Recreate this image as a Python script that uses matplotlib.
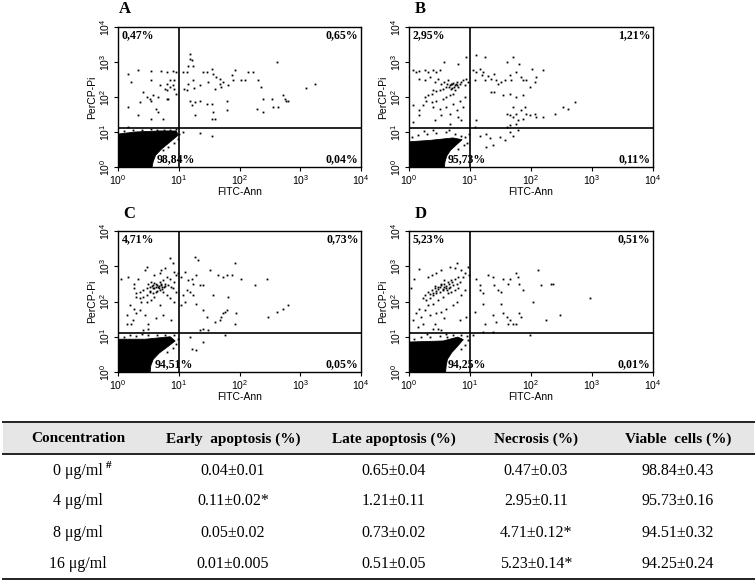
import numpy as np
import matplotlib
matplotlib.use("Agg")
import matplotlib.pyplot as plt

plt.rcParams['font.family'] = 'Liberation Sans'
plt.rcParams['mathtext.fontset'] = 'custom'
plt.rcParams['mathtext.rm'] = 'Liberation Sans'
plt.rcParams['mathtext.default'] = 'regular'

W, H = 756, 584

# quadrant gates (FITC-Ann, PerCP-Pi intensity)
gate_fitc = 10.0
gate_pi = 12.9

# quadrant percentages: upper-left, upper-right, lower-left, lower-right
pct_A = ['0,47%', '0,65%', '98,84%', '0,04%']
pct_B = ['2,95%', '1,21%', '95,73%', '0,11%']
pct_C = ['4,71%', '0,73%', '94,51%', '0,05%']
pct_D = ['5,23%', '0,51%', '94,25%', '0,01%']

# events, as (log10 FITC-Ann, log10 PerCP-Pi)
events_A = np.array([
    (0.16, 2.67), (0.33, 2.76), (0.22, 2.43), (0.55, 2.73), (0.71, 2.73), (0.80, 2.71), (0.91, 2.73),
    (0.96, 2.71), (0.55, 2.50), (0.69, 2.33), (0.80, 2.38), (0.85, 2.48), (0.93, 2.48), (0.77, 2.24),
    (0.80, 2.19), (0.85, 2.29), (0.91, 2.33), (0.41, 2.14), (0.47, 2.00), (0.52, 1.95), (0.58, 2.05),
    (0.55, 1.90), (0.66, 2.00), (0.80, 1.95), (0.82, 1.93), (0.93, 2.24), (0.96, 2.10), (0.16, 1.71),
    (0.36, 1.86), (0.63, 1.67), (0.66, 1.57), (0.33, 1.48), (0.55, 1.38), (0.74, 1.38), (0.16, 1.13),
    (1.07, 2.71), (1.13, 2.71), (1.15, 2.90), (1.18, 3.10), (1.19, 3.24), (1.21, 3.05), (1.24, 2.90),
    (1.24, 2.48), (1.15, 2.38), (1.08, 2.24), (1.13, 2.19), (1.18, 1.90), (1.25, 2.27), (1.35, 2.33),
    (1.40, 2.71), (1.46, 2.71), (1.48, 2.43), (1.54, 2.81), (1.57, 2.67), (1.59, 2.24), (1.62, 2.57),
    (1.68, 2.52), (1.68, 2.38), (1.69, 2.30), (1.73, 2.43), (1.79, 1.90), (1.81, 2.33), (1.87, 2.62),
    (1.90, 2.48), (1.92, 2.76), (2.03, 2.48), (2.09, 2.48), (2.14, 2.71), (2.23, 2.71), (2.31, 2.48),
    (2.36, 2.29), (2.39, 1.95), (2.28, 1.67), (2.39, 1.57), (2.53, 1.95), (2.55, 1.71), (2.61, 3.00),
    (2.64, 1.71), (2.72, 2.05), (2.75, 1.95), (2.77, 1.90), (2.80, 1.90), (3.10, 2.27), (3.24, 2.38),
    (1.35, 1.90), (1.26, 1.86), (1.46, 1.81), (1.54, 1.81), (1.57, 1.57), (1.59, 1.38), (1.55, 1.38),
    (1.79, 1.62), (1.26, 1.48), (1.21, 1.76),
    (1.35, 0.97), (1.54, 0.90), (1.07, 1.00),
    (0.10, 1.02), (0.25, 1.05), (0.40, 1.06), (0.55, 1.09), (0.65, 1.07), (0.75, 1.05), (0.85, 1.06),
    (0.95, 1.08), (1.00, 0.95), (0.99, 0.80), (0.92, 0.70), (0.82, 0.58), (0.74, 0.48),
])
events_B = np.array([
    (0.07, 2.76), (0.12, 2.71), (0.17, 2.74), (0.26, 2.76), (0.31, 2.71), (0.39, 2.78), (0.45, 2.71),
    (0.50, 2.76), (0.58, 3.00), (0.80, 2.95), (0.94, 3.14), (0.17, 2.52), (0.26, 2.48), (0.34, 2.57),
    (0.42, 2.43), (0.48, 2.52), (0.53, 2.38), (0.58, 2.43), (0.64, 2.48), (0.67, 2.33), (0.69, 2.38),
    (0.72, 2.40), (0.75, 2.33), (0.78, 2.43), (0.80, 2.29), (0.83, 2.38), (0.86, 2.43), (0.89, 2.48),
    (0.91, 2.33), (0.94, 2.52), (0.97, 2.43), (0.61, 2.29), (0.56, 2.24), (0.50, 2.19), (0.45, 2.17),
    (0.39, 2.19), (0.37, 2.10), (0.31, 2.05), (0.26, 2.00), (0.69, 2.24), (0.75, 2.19), (0.72, 2.10),
    (0.67, 2.05), (0.61, 2.00), (0.56, 1.95), (0.45, 1.90), (0.37, 1.86), (0.28, 1.90), (0.23, 1.76),
    (0.17, 1.62), (0.07, 1.76), (0.39, 1.71), (0.50, 1.67), (0.61, 1.71), (0.72, 1.81), (0.83, 1.90),
    (0.91, 2.00), (0.89, 1.71), (0.78, 1.62), (0.67, 1.52), (0.53, 1.48), (0.17, 1.48), (0.42, 1.33),
    (0.80, 1.43), (0.86, 1.33), (0.67, 1.24), (0.07, 1.29), (0.70, 2.36), (0.74, 2.30), (0.77, 2.38),
    (0.66, 2.28), (0.71, 2.25), (0.79, 2.33), (0.63, 2.36),
    (1.05, 2.76), (1.10, 2.71), (1.16, 2.81), (1.21, 2.71), (1.08, 2.48), (1.19, 2.62), (1.24, 2.48),
    (1.30, 2.59), (1.35, 2.52), (1.40, 2.67), (1.43, 2.48), (1.46, 2.38), (1.51, 2.43), (1.57, 2.48),
    (1.60, 3.00), (1.65, 2.62), (1.68, 2.48), (1.70, 3.14), (1.76, 2.71), (1.81, 2.95), (1.84, 2.57),
    (1.87, 2.48), (1.92, 2.48), (1.98, 2.29), (2.01, 2.81), (2.06, 2.43), (2.09, 2.57), (2.20, 2.76),
    (1.24, 3.14), (1.10, 3.19), (1.35, 2.14), (1.40, 2.14), (1.54, 2.05), (1.65, 2.10), (1.76, 2.00),
    (1.87, 2.05), (1.70, 1.71), (1.76, 1.52), (1.84, 1.62), (1.90, 1.71), (1.92, 1.52), (1.60, 1.52),
    (1.65, 1.48), (1.70, 1.43), (1.79, 1.33), (1.87, 1.38), (1.98, 1.48), (2.06, 1.52), (2.09, 1.43),
    (2.20, 1.43), (1.65, 1.19), (1.76, 1.24), (1.60, 1.14), (2.39, 1.52), (2.52, 1.71), (2.61, 1.67),
    (2.72, 1.86), (1.10, 1.33), (1.08, 1.14),
    (1.16, 0.90), (1.27, 0.95), (1.32, 0.84), (1.38, 0.62), (1.49, 0.86), (1.57, 0.76), (1.65, 1.00),
    (1.70, 0.90), (1.79, 1.05), (1.27, 0.57), (0.98, 0.95),
    (0.05, 0.85), (0.15, 0.92), (0.30, 0.95), (0.45, 0.98), (0.60, 1.00), (0.75, 0.95), (0.85, 0.90),
    (0.92, 0.85), (0.95, 0.70), (0.90, 0.62), (0.80, 0.52), (0.40, 1.05), (0.25, 1.03), (0.65, 1.07),
])
events_C = np.array([
    (0.05, 2.65), (0.16, 2.70), (0.27, 2.51), (0.33, 2.65), (0.44, 2.89), (0.47, 2.99), (0.60, 2.75),
    (0.69, 2.80), (0.71, 2.89), (0.77, 2.94), (0.85, 3.22), (0.91, 3.08), (0.93, 2.84), (0.96, 2.75),
    (0.99, 2.80), (0.93, 2.56), (0.85, 2.65), (0.80, 2.70), (0.74, 2.61), (0.69, 2.56), (0.63, 2.51),
    (0.58, 2.46), (0.52, 2.42), (0.47, 2.37), (0.41, 2.32), (0.36, 2.27), (0.30, 2.23), (0.27, 2.37),
    (0.49, 2.51), (0.55, 2.56), (0.60, 2.37), (0.66, 2.42), (0.71, 2.46), (0.77, 2.51), (0.82, 2.46),
    (0.88, 2.42), (0.69, 2.32), (0.63, 2.27), (0.58, 2.23), (0.52, 2.27), (0.47, 2.18), (0.41, 2.13),
    (0.36, 2.09), (0.30, 2.13), (0.38, 1.99), (0.47, 1.99), (0.55, 2.04), (0.60, 2.13), (0.74, 2.27),
    (0.80, 2.18), (0.85, 2.09), (0.91, 2.37), (0.96, 2.27), (0.27, 1.80), (0.36, 1.75), (0.44, 1.61),
    (0.19, 1.90), (0.14, 1.61), (0.25, 1.47), (0.49, 1.37), (0.63, 1.52), (0.74, 1.61), (0.88, 1.47),
    (0.41, 1.18), (0.49, 1.23), (0.22, 1.37), (0.14, 1.37), (0.30, 1.66), (0.69, 1.90), (0.93, 1.99),
    (0.62, 2.40), (0.68, 2.44), (0.72, 2.36), (0.75, 2.42), (0.57, 2.38), (0.65, 2.30), (0.70, 2.50),
    (0.78, 2.45), (0.53, 2.30), (0.60, 2.52), (0.64, 2.46), (0.67, 2.37), (0.56, 2.43), (0.73, 2.40),
    (1.04, 2.70), (1.10, 2.84), (1.15, 2.61), (1.21, 2.65), (1.24, 2.51), (1.29, 2.75), (1.35, 2.46),
    (1.40, 2.48), (1.51, 2.89), (1.65, 2.75), (1.73, 2.70), (1.79, 2.75), (1.87, 2.75), (1.92, 3.08),
    (2.03, 2.65), (2.25, 2.46), (2.45, 2.65), (1.26, 3.27), (1.32, 3.18), (1.13, 2.32), (1.18, 2.27),
    (1.24, 2.18), (1.29, 1.94), (1.40, 1.75), (1.46, 1.56), (1.48, 1.18), (1.35, 1.18), (1.40, 1.23),
    (1.57, 2.18), (1.59, 1.42), (1.68, 1.47), (1.70, 1.56), (1.73, 1.66), (1.76, 1.71), (1.79, 1.75),
    (1.81, 2.13), (1.95, 1.66), (1.92, 1.37), (2.47, 1.56), (2.61, 1.71), (2.72, 1.80), (2.80, 1.90),
    (1.07, 2.18), (1.10, 1.99), (1.04, 1.90),
    (1.18, 1.00), (1.21, 0.66), (1.29, 0.62), (1.40, 0.85), (1.76, 1.04),
    (0.10, 1.00), (0.30, 1.02), (0.50, 1.04), (0.65, 1.05), (0.78, 1.06), (0.92, 1.05), (0.98, 0.95),
    (0.96, 0.80), (0.90, 0.68), (0.80, 0.56), (0.40, 1.07), (0.20, 1.06),
])
events_D = np.array([
    (0.17, 2.92), (0.04, 2.37), (0.09, 2.65), (0.31, 2.70), (0.37, 2.75), (0.45, 2.80), (0.53, 2.89),
    (0.58, 2.61), (0.67, 2.99), (0.75, 2.94), (0.78, 3.08), (0.86, 2.89), (0.91, 2.80), (0.97, 2.99),
    (0.99, 2.75), (0.89, 2.70), (0.80, 2.70), (0.75, 2.65), (0.69, 2.61), (0.64, 2.56), (0.58, 2.51),
    (0.53, 2.46), (0.48, 2.42), (0.42, 2.37), (0.37, 2.32), (0.31, 2.27), (0.26, 2.18), (0.23, 2.09),
    (0.28, 2.04), (0.34, 2.09), (0.39, 2.18), (0.45, 2.23), (0.50, 2.27), (0.56, 2.32), (0.61, 2.37),
    (0.67, 2.42), (0.72, 2.46), (0.78, 2.51), (0.83, 2.56), (0.64, 2.23), (0.69, 2.27), (0.75, 2.32),
    (0.80, 2.37), (0.56, 2.13), (0.48, 2.04), (0.39, 1.94), (0.31, 1.90), (0.26, 1.75), (0.17, 1.80),
    (0.12, 1.66), (0.07, 1.47), (0.20, 1.56), (0.34, 1.61), (0.45, 1.66), (0.53, 1.71), (0.61, 1.80),
    (0.72, 1.90), (0.78, 1.99), (0.86, 2.18), (0.91, 2.32), (0.42, 1.37), (0.48, 1.23), (0.53, 1.18),
    (0.39, 1.23), (0.58, 1.52), (0.83, 1.47), (0.94, 1.56), (0.23, 1.37), (0.15, 1.28),
    (0.50, 2.40), (0.55, 2.35), (0.60, 2.45), (0.45, 2.30), (0.65, 2.50), (0.40, 2.25), (0.52, 2.50),
    (0.62, 2.32), (0.70, 2.55), (0.35, 2.20), (0.47, 2.36), (0.57, 2.42), (0.43, 2.44), (0.66, 2.38),
    (1.10, 2.65), (1.16, 2.46), (1.21, 2.23), (1.16, 2.32), (1.30, 2.75), (1.38, 2.70), (1.40, 2.46),
    (1.46, 2.32), (1.51, 2.27), (1.54, 2.65), (1.62, 2.51), (1.65, 2.65), (1.76, 2.80), (1.79, 2.70),
    (1.81, 2.51), (1.87, 2.32), (2.11, 2.89), (2.17, 2.46), (2.33, 2.51), (2.36, 2.51), (2.96, 2.09),
    (2.03, 1.99), (1.81, 1.66), (1.84, 1.56), (1.54, 1.66), (1.60, 1.56), (1.65, 1.47), (1.70, 1.37),
    (1.76, 1.37), (1.62, 1.37), (1.43, 1.42), (1.38, 1.61), (1.24, 1.37), (1.08, 1.71), (1.21, 1.94),
    (1.51, 1.94), (2.25, 1.47), (2.47, 1.61),
    (1.21, 1.14), (1.38, 1.14), (1.98, 1.04), (1.05, 1.04),
    (0.08, 0.95), (0.20, 0.98), (0.35, 1.00), (0.50, 1.02), (0.62, 1.00), (0.72, 1.05), (0.85, 1.06),
    (0.95, 1.02), (0.97, 0.90), (0.92, 0.78), (0.86, 0.64), (0.30, 1.07), (0.60, 1.08),
])

# outline of the dense viable population (log10 FITC-Ann, log10 PerCP-Pi)
core_A = np.array([(0, 0), (0, 0.94), (0.28, 1.00), (0.69, 1.03), (0.96, 1.03), (0.99, 0.91),
                   (0.86, 0.72), (0.72, 0.52), (0.62, 0.34), (0.58, 0.16), (0.56, 0)])
core_B = np.array([(0, 0), (0, 0.72), (0.34, 0.76), (0.72, 0.83), (0.87, 0.78), (0.78, 0.64),
                   (0.68, 0.48), (0.62, 0.32), (0.59, 0.15), (0.58, 0)])
core_C = np.array([(0, 0), (0, 0.93), (0.45, 0.93), (0.86, 1.00), (0.94, 0.88), (0.82, 0.72),
                   (0.68, 0.54), (0.58, 0.36), (0.54, 0.18), (0.53, 0)])
core_D = np.array([(0, 0), (0, 0.85), (0.56, 0.88), (0.80, 0.99), (0.89, 0.92), (0.80, 0.74),
                   (0.70, 0.55), (0.63, 0.36), (0.61, 0.18), (0.60, 0)])

# table
headers = ['Concentration', 'Early  apoptosis (%)', 'Late apoptosis (%)', 'Necrosis (%)', 'Viable  cells (%)']
concentration = ['0 μg/ml', '4 μg/ml', '8 μg/ml', '16 μg/ml']
early = ['0.04±0.01', '0.11±0.02*', '0.05±0.02', '0.01±0.005']
late = ['0.65±0.04', '1.21±0.11', '0.73±0.02', '0.51±0.05']
necrosis = ['0.47±0.03', '2.95±0.11', '4.71±0.12*', '5.23±0.14*']
viable = ['98.84±0.43', '95.73±0.16', '94.51±0.32', '94.25±0.24']

fig = plt.figure(figsize=(W / 100, H / 100), dpi=100)


def rect(l, t, r, b):
    return [l / W, 1 - b / H, (r - l) / W, (b - t) / H]


panels = [
    ('A', events_A, core_A, pct_A, (118, 27, 361, 167), (119, 9), 0.158),
    ('B', events_B, core_B, pct_B, (409, 27, 653, 167), (415, 9), 0.160),
    ('C', events_C, core_C, pct_C, (118, 231, 361, 372), (123, 214), 0.151),
    ('D', events_D, core_D, pct_D, (409, 231, 653, 372), (415, 214), 0.160),
]

serif = 'Liberation Serif'
for letter, ev, core, pct, box, lpos, llx in panels:
    ax = fig.add_axes(rect(*box))
    ax.set_xscale('log')
    ax.set_yscale('log')
    ax.fill(10 ** core[:, 0], 10 ** core[:, 1], color='k', lw=0.6)
    ax.plot(10 ** ev[:, 0], 10 ** ev[:, 1], ls='none', marker='s', ms=1.3, mfc='k', mec='none')
    ax.axvline(gate_fitc, color='k', lw=1.2)
    ax.axhline(gate_pi, color='k', lw=1.2)
    ax.set_xlim(1, 1e4)
    ax.set_ylim(1, 1e4)
    ax.set_xticks([1, 10, 100, 1000, 10000])
    ax.set_yticks([1, 10, 100, 1000, 10000])
    ax.minorticks_off()
    ax.tick_params(direction='out', length=3, width=0.8, labelsize=7.5, pad=1.5)
    ax.tick_params(axis='y', labelrotation=90)
    for lab in ax.get_yticklabels():
        lab.set_va('center')
    for s in ax.spines.values():
        s.set_linewidth(1.0)

    ax.text(-0.107, 0.5, 'PerCP-Pi', rotation=90, ha='center', va='center',
            fontsize=7.5, transform=ax.transAxes)
    ax.text(0.5, -0.18, 'FITC-Ann', ha='center', va='center', fontsize=7.5, transform=ax.transAxes)

    kw = dict(fontsize=8.5, fontweight='bold', family=serif, transform=ax.transAxes)
    ax.text(0.015, 0.985, pct[0], ha='left', va='top', **kw)
    ax.text(0.99, 0.985, pct[1], ha='right', va='top', **kw)
    ax.text(llx, 0.01, pct[2], ha='left', va='bottom', **kw)
    ax.text(0.99, 0.01, pct[3], ha='right', va='bottom', **kw)

    fig.text(lpos[0] / W, 1 - lpos[1] / H, letter, ha='left', va='center',
             fontsize=12, fontweight='bold', family=serif)

# table drawn in pixel-like layout coordinates
tab = fig.add_axes([0, 0, 1, 1])
tab.set_xlim(0, W)
tab.set_ylim(H, 0)
tab.axis('off')
tab.fill_between([3, 754], 423, 453, color='#e6e6e6', lw=0)
for yl in (422, 454, 579):
    tab.plot([3, 754], [yl, yl], color='#222222', lw=1.4)

col_x = [78, 233, 394, 536, 678]
row_y = [471, 501, 533, 564]
for cx, h in zip(col_x, headers):
    tab.text(cx, 439, h, ha='center', va='center', fontsize=11, fontweight='bold', family=serif)

columns = [concentration, early, late, necrosis, viable]
for cx, col in zip(col_x, columns):
    for ry, val in zip(row_y, col):
        t = tab.text(cx, ry, val, ha='center', va='center', fontsize=11.5, family=serif)
        if val == '0 μg/ml':
            tab.annotate('#', xy=(1, 0.55), xycoords=t, xytext=(2, 0), textcoords='offset points',
                         fontsize=8, fontweight='bold', family=serif, va='bottom')

fig.savefig('out.png', dpi=100)
